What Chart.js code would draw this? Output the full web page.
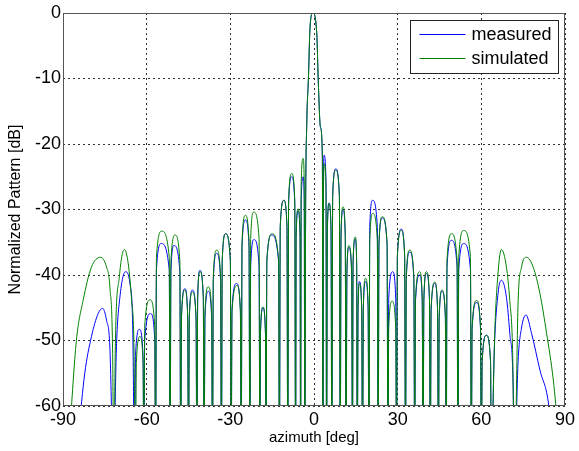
<!DOCTYPE html>
<html>
<head>
<meta charset="utf-8">
<script src="https://cdn.jsdelivr.net/npm/chart.js@4.4.1/dist/chart.umd.min.js"></script>
<style>
  html, body { margin: 0; padding: 0; background: #fff; }
  #wrap { width: 579px; height: 451px; }
</style>
</head>
<body>
<div id="wrap"><canvas id="grafico"></canvas></div>
<script>
// azimute [deg] e padrao normalizado [dB] (nulos abaixo de -60 ficam cortados)
const simAz = [
  -87.6, -85.2, -82.8, -79.8, -76.6, -74.4, -73.2, -72.2, -71.8,
  -71.2, -69.8, -68.0, -66.6, -65.4, -64.6, -64.0,
  -63.7, -62.4, -61.3, -61.0,
  -60.7, -58.8, -57.1, -56.8,
  -56.5, -54.6, -51.9, -51.6,
  -51.3, -49.8, -48.1, -47.8,
  -47.5, -46.3, -45.3, -45.0,
  -44.7, -43.6, -42.3, -42.0,
  -41.7, -40.9, -39.7, -39.4,
  -39.1, -37.9, -36.7, -36.4,
  -36.1, -34.9, -33.5, -33.2,
  -32.9, -31.7, -30.0, -29.7,
  -29.4, -27.6, -26.4, -26.1,
  -25.8, -24.6, -23.3, -23.0,
  -22.7, -21.6, -19.7, -19.4,
  -19.2, -18.3, -17.4, -17.2,
  -16.9, -15.0, -12.7, -12.4,
  -12.1, -10.8, -9.7, -9.4,
  -9.1, -8.0, -6.9, -6.6,
  -6.4, -5.7, -5.0, -4.8,
  -4.6, -3.9, -3.5, -3.3,
  -3.0, -2.6, -2.0, -1.4, -0.4, 1.0, 1.5, 2.3, 3.0, 3.2,
  3.4, 3.7, 4.3, 4.5,
  4.8, 5.4, 6.1, 6.4,
  6.7, 7.8, 9.1, 9.4,
  9.7, 10.4, 11.2, 11.5,
  11.8, 12.5, 13.5, 13.8,
  14.0, 14.8, 15.3, 15.5,
  15.8, 16.3, 17.1, 17.4,
  17.7, 18.5, 19.4, 19.7,
  20.0, 21.1, 22.7, 23.0,
  23.3, 24.5, 26.2, 26.5,
  26.8, 28.0, 29.3, 29.6,
  29.9, 31.3, 32.5, 32.8,
  33.1, 34.3, 35.8, 36.1,
  36.4, 37.9, 38.8, 39.1,
  39.4, 40.3, 41.4, 41.7,
  42.0, 43.3, 44.3, 44.6,
  44.9, 45.9, 47.1, 47.4,
  47.7, 49.3, 51.3, 51.6,
  51.9, 53.7, 56.1, 56.4,
  56.7, 58.3, 59.7, 60.0,
  60.3, 61.8, 63.3, 63.6,
  64.4, 64.8, 65.7, 67.2, 69.0, 70.2, 71.2, 71.9,
  73.2, 74.4, 76.2, 78.6, 81.0, 83.4, 85.8, 87.6
];
const simDb = [
  -64, -50, -43.9, -38.8, -37.3, -38.8, -41.8, -52, -70,
  -50, -40.3, -36.1, -38.3, -43.9, -50, -70,
  -53.4, -49.4, -53.4, -70,
  -47.8, -43.8, -47.8, -70,
  -37.3, -33.3, -37.3, -70,
  -37.9, -33.9, -37.9, -70,
  -46.3, -42.3, -46.3, -70,
  -46.6, -42.6, -46.6, -70,
  -43.5, -39.5, -43.5, -70,
  -45.8, -41.8, -45.8, -70,
  -40.2, -36.2, -40.2, -70,
  -37.7, -33.7, -37.7, -70,
  -45.6, -41.6, -45.6, -70,
  -34.9, -30.9, -34.9, -70,
  -34.4, -30.4, -34.4, -70,
  -48.9, -44.9, -48.9, -70,
  -37.7, -33.7, -37.7, -70,
  -32.6, -28.6, -32.6, -70,
  -28.5, -24.5, -28.5, -70,
  -33.9, -29.9, -33.9, -70,
  -26.2, -22.2, -26.2, -70,
  -30, -17, -10, -2, 0, -3.2, -10, -17.4, -22, -70,
  -27, -23, -27, -70,
  -33.1, -29.1, -33.1, -70,
  -28, -24, -28, -70,
  -33.6, -29.6, -33.6, -70,
  -39.5, -35.5, -39.5, -70,
  -38.2, -34.2, -38.2, -70,
  -45.3, -41.3, -45.3, -70,
  -44.5, -40.5, -44.5, -70,
  -34.6, -30.6, -34.6, -70,
  -35.1, -31.1, -35.1, -70,
  -48, -44, -48, -70,
  -37.2, -33.2, -37.2, -70,
  -40.2, -36.2, -40.2, -70,
  -43.5, -39.5, -43.5, -70,
  -43.5, -39.5, -43.5, -70,
  -45.1, -41.1, -45.1, -70,
  -46.3, -42.3, -46.3, -70,
  -37.7, -33.7, -37.7, -70,
  -37.2, -33.2, -37.2, -70,
  -47.9, -43.9, -47.9, -70,
  -53.2, -49.2, -53.2, -70,
  -56, -48.9, -41.3, -36.1, -38.8, -43.9, -51.4, -70,
  -43.9, -38.8, -37.3, -38.8, -42.8, -48.9, -56, -64
];

const measAz = [
  -84.4, -82.2, -79.8, -77.4, -75.8, -74.4, -73.2, -72.4, -72.0,
  -70.8, -69.6, -67.6, -66.0, -65.0, -64.3,
  -64.0, -62.6, -61.3, -61.0,
  -60.7, -58.6, -57.1, -56.8,
  -56.5, -54.8, -51.9, -51.6,
  -51.3, -50.2, -48.1, -47.8,
  -47.5, -46.3, -45.3, -45.0,
  -44.7, -43.6, -42.3, -42.0,
  -41.7, -40.9, -39.7, -39.4,
  -39.1, -37.9, -36.7, -36.4,
  -36.1, -34.9, -33.5, -33.2,
  -32.9, -31.7, -30.0, -29.7,
  -29.4, -27.8, -26.4, -26.1,
  -25.8, -24.6, -23.3, -23.0,
  -22.7, -21.5, -19.7, -19.4,
  -19.2, -18.3, -17.4, -17.2,
  -16.9, -15.2, -12.7, -12.4,
  -12.1, -10.8, -9.7, -9.4,
  -9.1, -8.0, -6.9, -6.6,
  -6.4, -5.7, -5.0, -4.8,
  -4.6, -3.9, -3.5, -3.3,
  -3.0, -2.6, -2.0, -1.4, -0.4, 1.0, 1.5, 2.3, 3.0, 3.2,
  3.4, 3.6, 4.3, 4.5,
  4.8, 5.4, 6.1, 6.4,
  6.7, 7.8, 9.1, 9.4,
  9.7, 10.4, 11.2, 11.5,
  11.8, 12.5, 13.5, 13.8,
  14.0, 14.8, 15.3, 15.5,
  15.8, 16.3, 17.1, 17.4,
  17.7, 18.5, 19.4, 19.7,
  20.0, 21.0, 22.7, 23.0,
  23.3, 24.5, 26.2, 26.5,
  26.8, 28.2, 29.3, 29.6,
  29.9, 31.3, 32.5, 32.8,
  33.1, 34.3, 35.8, 36.1,
  36.4, 37.9, 38.8, 39.1,
  39.4, 40.3, 41.4, 41.7,
  42.0, 43.3, 44.3, 44.6,
  44.9, 45.9, 47.1, 47.4,
  47.7, 49.3, 51.3, 51.6,
  51.9, 53.7, 56.1, 56.4,
  56.7, 58.3, 59.7, 60.0,
  60.3, 61.8, 63.3, 63.6,
  64.6, 66.0, 67.2, 69.0, 70.2, 71.4, 71.8,
  73.2, 74.4, 76.0, 78.0, 81.0, 84.2, 85.0
];
const measDb = [
  -64, -55, -49.4, -45.9, -45.1, -46.9, -51, -64, -70,
  -50.5, -43.4, -39.5, -41.3, -47.9, -70,
  -52.3, -48.3, -52.3, -70,
  -49.9, -45.9, -49.9, -70,
  -39.2, -35.2, -39.2, -70,
  -39.5, -35.5, -39.5, -70,
  -46.1, -42.1, -46.1, -70,
  -46.3, -42.3, -46.3, -70,
  -43.3, -39.3, -43.3, -70,
  -46.5, -42.5, -46.5, -70,
  -40.7, -36.7, -40.7, -70,
  -37.7, -33.7, -37.7, -70,
  -45.3, -41.3, -45.3, -70,
  -35.6, -31.6, -35.6, -70,
  -38.6, -34.6, -38.6, -70,
  -49, -45, -49, -70,
  -37.9, -33.9, -37.9, -70,
  -32.6, -28.6, -32.6, -70,
  -29, -25, -29, -70,
  -34.2, -30.2, -34.2, -70,
  -29, -25, -29, -70,
  -30, -17, -10, -2, 0, -3.2, -10, -17.4, -22, -70,
  -25.7, -21.7, -25.7, -70,
  -33, -29, -33, -70,
  -27.8, -23.8, -27.8, -70,
  -34, -30, -34, -70,
  -39.8, -35.8, -39.8, -70,
  -38.5, -34.5, -38.5, -70,
  -45, -41, -45, -70,
  -45, -41, -45, -70,
  -32.6, -28.6, -32.6, -70,
  -35.3, -31.3, -35.3, -70,
  -43.5, -39.5, -43.5, -70,
  -37, -33, -37, -70,
  -40.5, -36.5, -40.5, -70,
  -44, -40, -44, -70,
  -43.8, -39.8, -43.8, -70,
  -45.3, -41.3, -45.3, -70,
  -46.5, -42.5, -46.5, -70,
  -38.7, -34.7, -38.7, -70,
  -39.2, -35.2, -39.2, -70,
  -48.2, -44.2, -48.2, -70,
  -53.2, -49.2, -53.2, -70,
  -52, -42.8, -40.8, -43.4, -48.9, -57, -70,
  -53, -48.1, -46.1, -48.9, -54.5, -60, -64
];

const xTicks = [-90, -60, -30, 0, 30, 60, 90];
const yTicks = [-60, -50, -40, -30, -20, -10, 0];

const fonte = "'Liberation Sans', Arial, sans-serif";

function pontos(az, db) {
  return az.map((a, i) => ({ x: a, y: db[i] }));
}

// moldura e legenda no estilo MATLAB
const moldura = {
  id: "moldura",
  afterDraw(chart) {
    const { ctx, chartArea: a } = chart;
    ctx.save();
    ctx.strokeStyle = "#555";
    ctx.lineWidth = 1;
    ctx.setLineDash([]);
    ctx.strokeRect(Math.round(a.left) + 0.5, Math.round(a.top) + 0.5,
      Math.round(a.right - a.left) - 1, Math.round(a.bottom - a.top) - 1);

    // legenda
    const bx = Math.round(a.right) - 154.5, by = Math.round(a.top) + 7.5;
    const bw = 148, bh = 53;
    ctx.fillStyle = "#fff";
    ctx.fillRect(bx, by, bw, bh);
    ctx.strokeStyle = "#222";
    ctx.strokeRect(bx, by, bw, bh);
    ctx.font = "18px " + fonte;
    ctx.textBaseline = "middle";
    chart.data.datasets.forEach((ds, i) => {
      const ly = by + 14 + i * 24;
      ctx.strokeStyle = ds.borderColor;
      ctx.beginPath();
      ctx.moveTo(bx + 9, ly);
      ctx.lineTo(bx + 55, ly);
      ctx.stroke();
      ctx.fillStyle = "#000";
      ctx.fillText(ds.label, bx + 61, ly + 1);
    });
    ctx.restore();
  }
};

const ctx = document.getElementById("grafico").getContext("2d");
new Chart(ctx, {
  type: "line",
  data: {
    datasets: [
      {
        label: "measured",
        data: pontos(measAz, measDb),
        borderColor: "#0000ff",
        borderWidth: 1,
        pointRadius: 0,
        cubicInterpolationMode: "monotone",
        order: 1
      },
      {
        label: "simulated",
        data: pontos(simAz, simDb),
        borderColor: "#008000",
        borderWidth: 1,
        pointRadius: 0,
        cubicInterpolationMode: "monotone",
        order: 0
      }
    ]
  },
  options: {
    responsive: true,
    maintainAspectRatio: false,
    animation: false,
    layout: { padding: { left: 0, right: 14, top: 13, bottom: 0 } },
    plugins: {
      legend: { display: false },
      tooltip: { enabled: false }
    },
    scales: {
      x: {
        type: "linear",
        min: -90,
        max: 90,
        afterBuildTicks: (s) => { s.ticks = xTicks.map(v => ({ value: v })); },
        afterFit: (s) => { s.height = 45; },
        ticks: {
          color: "#000",
          font: { family: fonte, size: 18 },
          padding: 3,
          maxRotation: 0
        },
        grid: { color: "#333", lineWidth: 1, drawTicks: false },
        border: { display: false, dash: [2, 3] },
        title: {
          display: true,
          text: "azimuth [deg]",
          color: "#000",
          font: { family: fonte, size: 15 },
          padding: { top: 0, bottom: 4 }
        }
      },
      y: {
        min: -60,
        max: 0,
        afterBuildTicks: (s) => { s.ticks = yTicks.map(v => ({ value: v })); },
        afterFit: (s) => { s.width = 63; },
        ticks: {
          color: "#000",
          font: { family: fonte, size: 18 },
          padding: 2
        },
        grid: { color: "#333", lineWidth: 1, drawTicks: false },
        border: { display: false, dash: [2, 3] },
        title: {
          display: true,
          text: "Normalized Pattern [dB]",
          color: "#000",
          font: { family: fonte, size: 16 },
          padding: { top: 6, bottom: 0 }
        }
      }
    }
  },
  plugins: [moldura]
});
</script>
</body>
</html>
